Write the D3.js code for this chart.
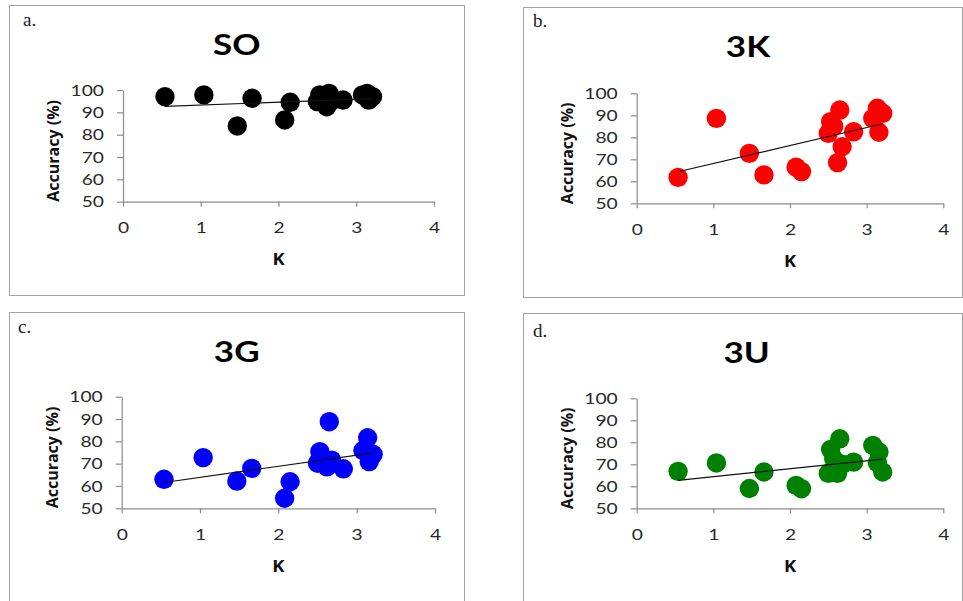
<!DOCTYPE html>
<html>
<head>
<meta charset="utf-8">
<script src="https://cdn.jsdelivr.net/npm/d3@7"></script>
<style>
  html, body { margin: 0; padding: 0; background: #fff; }
  svg { display: block; }
</style>
</head>
<body>
<svg id="chart" width="963" height="601"></svg>
<script>
// K value of each sample (shared by all four panels)
const kValues = [0.54, 1.04, 1.47, 1.66, 2.08, 2.15, 2.50, 2.53, 2.57, 2.62, 2.65, 2.68, 2.83, 3.08, 3.14, 3.16, 3.21];

// Accuracy (%) for each scheme, in the same order as kValues
const accuracySO = [97.0, 97.8, 83.9, 96.3, 86.6, 94.5, 94.8, 97.8, 96.0, 92.5, 98.5, 95.0, 95.5, 97.8, 98.5, 95.5, 97.0];
const accuracy3K = [61.8, 88.6, 72.7, 62.9, 66.4, 64.4, 81.8, 87.1, 85.0, 68.5, 92.4, 75.7, 82.5, 88.6, 93.2, 82.3, 90.9];
const accuracy3G = [63.0, 72.7, 62.2, 67.9, 54.5, 61.9, 70.2, 75.4, 72.0, 68.6, 88.8, 71.6, 67.7, 75.9, 81.6, 70.9, 74.2];
const accuracy3U = [66.8, 70.6, 59.0, 66.5, 60.4, 58.9, 65.9, 76.8, 72.5, 65.9, 81.6, 70.0, 71.0, 78.6, 70.8, 75.6, 66.5];

// Panel names, letters and axis ticks
const panelTitles = ["SO", "3K", "3G", "3U"];
const panelLetters = ["a.", "b.", "c.", "d."];
const xTicks = [0, 1, 2, 3, 4];
const yTicks = [50, 60, 70, 80, 90, 100];
const xAxisTitle = "K";
const yAxisTitle = "Accuracy (%)";

// Layout of the four panels (frame box, plot box, title and letter anchors)
const layout = [
  { frame: [9.5, 5.5, 455, 290],  plot: [123, 434, 90, 201.7],     title: [236.7, 55],   letter: [23, 26],   color: "#000000" },
  { frame: [523.5, 7.5, 439, 290], plot: [636.7, 943.3, 93.3, 203.3], title: [748, 57.3],  letter: [533, 26.7], color: "#ff0000" },
  { frame: [9.5, 312.5, 455, 290], plot: [121.7, 435, 396.7, 508.3],  title: [236.7, 361.7], letter: [18, 333], color: "#0000ff" },
  { frame: [523.5, 313.5, 439, 290], plot: [636.7, 943.3, 398.3, 508.3], title: [746.7, 363.3], letter: [533, 337], color: "#008000" }
];
const series = [accuracySO, accuracy3K, accuracy3G, accuracy3U];

const svg = d3.select("#chart");
svg.append("rect").attr("width", 963).attr("height", 601).attr("fill", "#fff");

// Least-squares linear trend
function linearFit(xs, ys) {
  const mx = d3.mean(xs), my = d3.mean(ys);
  let sxy = 0, sxx = 0;
  xs.forEach((x, i) => { sxy += (x - mx) * (ys[i] - my); sxx += (x - mx) * (x - mx); });
  const slope = sxy / sxx;
  return x => my + slope * (x - mx);
}

layout.forEach((L, p) => {
  const values = series[p];
  const g = svg.append("g");

  // panel frame
  g.append("rect")
    .attr("x", L.frame[0]).attr("y", L.frame[1])
    .attr("width", L.frame[2]).attr("height", L.frame[3])
    .attr("fill", "none").attr("stroke", "#a3a3a3").attr("stroke-width", 1);

  // panel letter
  g.append("text")
    .attr("x", L.letter[0]).attr("y", L.letter[1])
    .attr("font-family", "'Liberation Serif', serif")
    .attr("font-size", 19).attr("fill", "#222")
    .text(panelLetters[p]);

  // title
  g.append("text")
    .attr("transform", `translate(${L.title[0]},${L.title[1]}) scale(1.25,1)`)
    .attr("text-anchor", "middle")
    .attr("font-family", "Lato, 'Open Sans', sans-serif")
    .attr("font-weight", 700).attr("font-size", 28).attr("fill", "#000")
    .text(panelTitles[p]);

  const [left, right, top, bottom] = L.plot;
  const x = d3.scaleLinear().domain([0, 4]).range([left, right]);
  const y = d3.scaleLinear().domain([50, 100]).range([bottom, top]);

  // axes
  const xAxis = g.append("g")
    .attr("transform", `translate(0,${bottom})`)
    .call(d3.axisBottom(x).tickValues(xTicks).tickFormat(d3.format("d"))
      .tickSize(5).tickSizeOuter(0).tickPadding(15));
  const yAxis = g.append("g")
    .attr("transform", `translate(${left},0)`)
    .call(d3.axisLeft(y).tickValues(yTicks).tickFormat(d3.format("d"))
      .tickSize(6).tickSizeOuter(0).tickPadding(13));

  [xAxis, yAxis].forEach(ax => {
    ax.select(".domain").attr("stroke", "#8c8c8c").attr("stroke-width", 1.2);
    ax.selectAll(".tick line").attr("stroke", "#8c8c8c").attr("stroke-width", 1.2);
    ax.selectAll(".tick text")
      .attr("font-family", "Lato, 'Open Sans', sans-serif")
      .attr("font-size", 16).attr("fill", "#2a2a2a");
  });
  xAxis.selectAll(".tick text")
    .attr("y", 0)
    .attr("transform", "translate(0,20) scale(1.2,1)");
  yAxis.selectAll(".tick text")
    .attr("x", 0)
    .attr("transform", "translate(-19,0) scale(1.2,1)");

  // axis titles
  g.append("text")
    .attr("transform", `translate(${(left + right) / 2},${bottom + 63.5}) scale(1.15,1)`)
    .attr("text-anchor", "middle")
    .attr("font-family", "'Open Sans', Lato, sans-serif")
    .attr("font-weight", 700).attr("font-size", 16).attr("fill", "#111")
    .text(xAxisTitle);
  g.append("text")
    .attr("transform", `translate(${left - 70},${(top + bottom) / 2 + 5}) rotate(-90)`)
    .attr("text-anchor", "middle").attr("dominant-baseline", "central")
    .attr("font-family", "'Open Sans', Lato, sans-serif")
    .attr("font-weight", 700).attr("font-size", 16).attr("fill", "#111")
    .text(yAxisTitle);

  // points
  g.append("g").selectAll("circle")
    .data(kValues.map((k, i) => ({ k, v: values[i] })))
    .join("circle")
    .attr("cx", d => x(d.k))
    .attr("cy", d => y(d.v))
    .attr("r", 9.7)
    .attr("fill", L.color);

  // linear trend line across the K range
  const fit = linearFit(kValues, values);
  const kExt = d3.extent(kValues);
  g.append("line")
    .attr("x1", x(kExt[0])).attr("y1", y(fit(kExt[0])))
    .attr("x2", x(kExt[1])).attr("y2", y(fit(kExt[1])))
    .attr("stroke", "#111").attr("stroke-width", 1.2);
});
</script>
</body>
</html>
